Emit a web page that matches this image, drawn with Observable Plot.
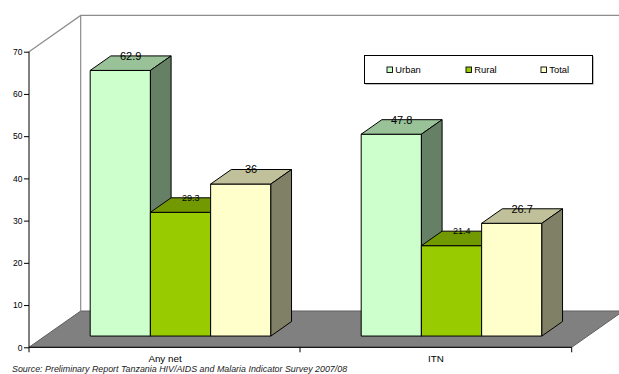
<!DOCTYPE html>
<html>
<head>
<meta charset="utf-8">
<script src="https://cdn.jsdelivr.net/npm/d3@7"></script>
<script src="https://cdn.jsdelivr.net/npm/@observablehq/plot@0.6"></script>
<style>
  html, body { margin: 0; padding: 0; background: #fff; }
  #chart svg { display: block; }
</style>
</head>
<body>
<div id="chart"></div>
<script>
// Bed-net ownership by residence (%)
const categories = ["Any net", "ITN"];
const series = ["Urban", "Rural", "Total"];
const urban = [62.9, 47.8];
const rural = [29.3, 21.4];
const total = [36, 26.7];
const yTicks = [0, 10, 20, 30, 40, 50, 60, 70];
const source = "Source: Preliminary Report Tanzania HIV/AIDS and Malaria Indicator Survey 2007/08";

const seriesValues = {Urban: urban, Rural: rural, Total: total};
const rows = categories.flatMap((category, i) =>
  series.map((s, j) => ({category, series: s, index: j, value: seriesValues[s][i]}))
);

// Face shading for the 3-D columns
const shade = {
  Urban: {front: "#ccffcc", top: "#99c299", side: "#668066", label: 11},
  Rural: {front: "#99cc00", top: "#739900", side: "#4d6600", label: 9},
  Total: {front: "#ffffcc", top: "#c0c09a", side: "#808066", label: 11}
};

const FONT = "'Liberation Sans', Arial, Helvetica, sans-serif";
const DEPTH = {dx: 51.7, dy: 36.3};   // floor depth, in pixels
const SLAB = [0.31, 0.71];            // column depth as a fraction of the floor depth
const GAP = 1.5;                      // gap between clusters, in column widths

// Walls and floor of the 3-D box
function walls(index, {x, y}) {
  const [x0, x1] = x.range();
  const y0 = y(0), yTop = y(70);
  const g = d3.create("svg:g");
  g.append("polygon")
    .attr("points", [[x0, y0], [x0 + DEPTH.dx, y0 - DEPTH.dy], [x1 + DEPTH.dx, y0 - DEPTH.dy], [x1, y0]].join(" "))
    .attr("fill", "#808080").attr("stroke", "#5e5e5e").attr("stroke-width", 1);
  g.append("path")
    .attr("d", `M${x0},${yTop}L${x0 + DEPTH.dx},${yTop - DEPTH.dy}L${x1 + DEPTH.dx},${yTop - DEPTH.dy}` +
               `M${x0 + DEPTH.dx},${yTop - DEPTH.dy}L${x0 + DEPTH.dx},${y0 - DEPTH.dy}`)
    .attr("fill", "none").attr("stroke", "#8c8c8c").attr("stroke-width", 1.2);
  return g.node();
}

// Columns: front, top and side faces, drawn left to right, then value labels
function columns(index, {x, y}) {
  const bw = x.bandwidth();
  const unit = bw / (series.length + GAP);
  const s0 = [DEPTH.dx * SLAB[0], -DEPTH.dy * SLAB[0]];
  const s1 = [DEPTH.dx * SLAB[1], -DEPTH.dy * SLAB[1]];
  const root = d3.create("svg:g");
  const faces = root.append("g").attr("stroke", "#000").attr("stroke-width", 1).attr("stroke-linejoin", "round");
  const labels = root.append("g").attr("font-family", FONT).attr("text-anchor", "middle")
    .attr("fill", "#000").attr("stroke", "none");
  for (const d of rows) {
    const c = shade[d.series];
    const left = x(d.category) + (GAP / 2) * unit + d.index * unit;
    const right = left + unit;
    const yb = y(0), yt = y(d.value);
    const P = (px, py, s) => [px + s[0], py + s[1]];
    faces.append("polygon").attr("fill", c.front)
      .attr("points", [P(left, yt, s0), P(right, yt, s0), P(right, yb, s0), P(left, yb, s0)].join(" "));
    faces.append("polygon").attr("fill", c.top)
      .attr("points", [P(left, yt, s0), P(right, yt, s0), P(right, yt, s1), P(left, yt, s1)].join(" "));
    faces.append("polygon").attr("fill", c.side)
      .attr("points", [P(right, yt, s0), P(right, yt, s1), P(right, yb, s1), P(right, yb, s0)].join(" "));
    labels.append("text")
      .attr("x", (left + right) / 2 + (s0[0] + s1[0]) / 2)
      .attr("y", yt + s1[1])
      .attr("dy", "0.36em")
      .attr("font-size", c.label)
      .text(d.value);
  }
  return root.node();
}

// Front axis lines and cluster boundary ticks
function frontAxes(index, {x, y}) {
  const [x0, x1] = x.range();
  const y0 = y(0), yTop = y(70);
  const g = d3.create("svg:g").attr("stroke", "#000").attr("stroke-width", 1).attr("fill", "none");
  const edges = [x0, ...categories.slice(1).map(c => x(c)), x1];
  g.append("path").attr("d", `M${x0},${yTop}L${x0},${y0}L${x1},${y0}` + edges.map(e => `M${e},${y0}V${y0 + 5}`).join(""));
  return g.node();
}

// Legend box
function legend() {
  const g = d3.create("svg:g").attr("font-family", FONT).attr("font-size", 9.4).attr("text-anchor", "start");
  g.append("rect").attr("x", 365.5).attr("y", 56.5).attr("width", 228).attr("height", 28)
    .attr("fill", "#808080");
  g.append("rect").attr("x", 364.5).attr("y", 55.5).attr("width", 228).attr("height", 28)
    .attr("fill", "#fff").attr("stroke", "#000").attr("stroke-width", 1);
  const xs = [387, 466, 541];
  series.forEach((s, i) => {
    g.append("rect").attr("x", xs[i]).attr("y", 67).attr("width", 5.5).attr("height", 5.5)
      .attr("fill", shade[s].front).attr("stroke", "#000").attr("stroke-width", 0.9);
    g.append("text").attr("x", xs[i] + 8.3).attr("y", 69.8).attr("dy", "0.35em")
      .attr("fill", "#000").attr("stroke", "none").text(s);
  });
  return g.node();
}

// Source note
function note() {
  return d3.create("svg:text")
    .attr("x", 12).attr("y", 372.3)
    .attr("text-anchor", "start")
    .attr("font-family", FONT).attr("font-size", 8.9).attr("font-style", "italic").attr("fill", "#222")
    .text(source).node();
}

const chart = Plot.plot({
  width: 619,
  height: 374,
  marginLeft: 29,
  marginRight: 47.3,
  marginTop: 51.7,
  marginBottom: 26.7,
  style: {fontFamily: FONT, background: "#fff", color: "#000", overflow: "visible"},
  x: {type: "band", domain: categories, padding: 0},
  y: {domain: [0, 70]},
  marks: [
    walls,
    columns,
    Plot.axisY({ticks: yTicks, tickSize: 5, tickPadding: 2, fontSize: 8.5, label: null, stroke: "#000"}),
    Plot.axisX({tickSize: 0, tickPadding: 7.5, fontSize: 9.8, label: null}),
    frontAxes,
    legend,
    note
  ]
});

document.getElementById("chart").append(chart);
</script>
</body>
</html>
